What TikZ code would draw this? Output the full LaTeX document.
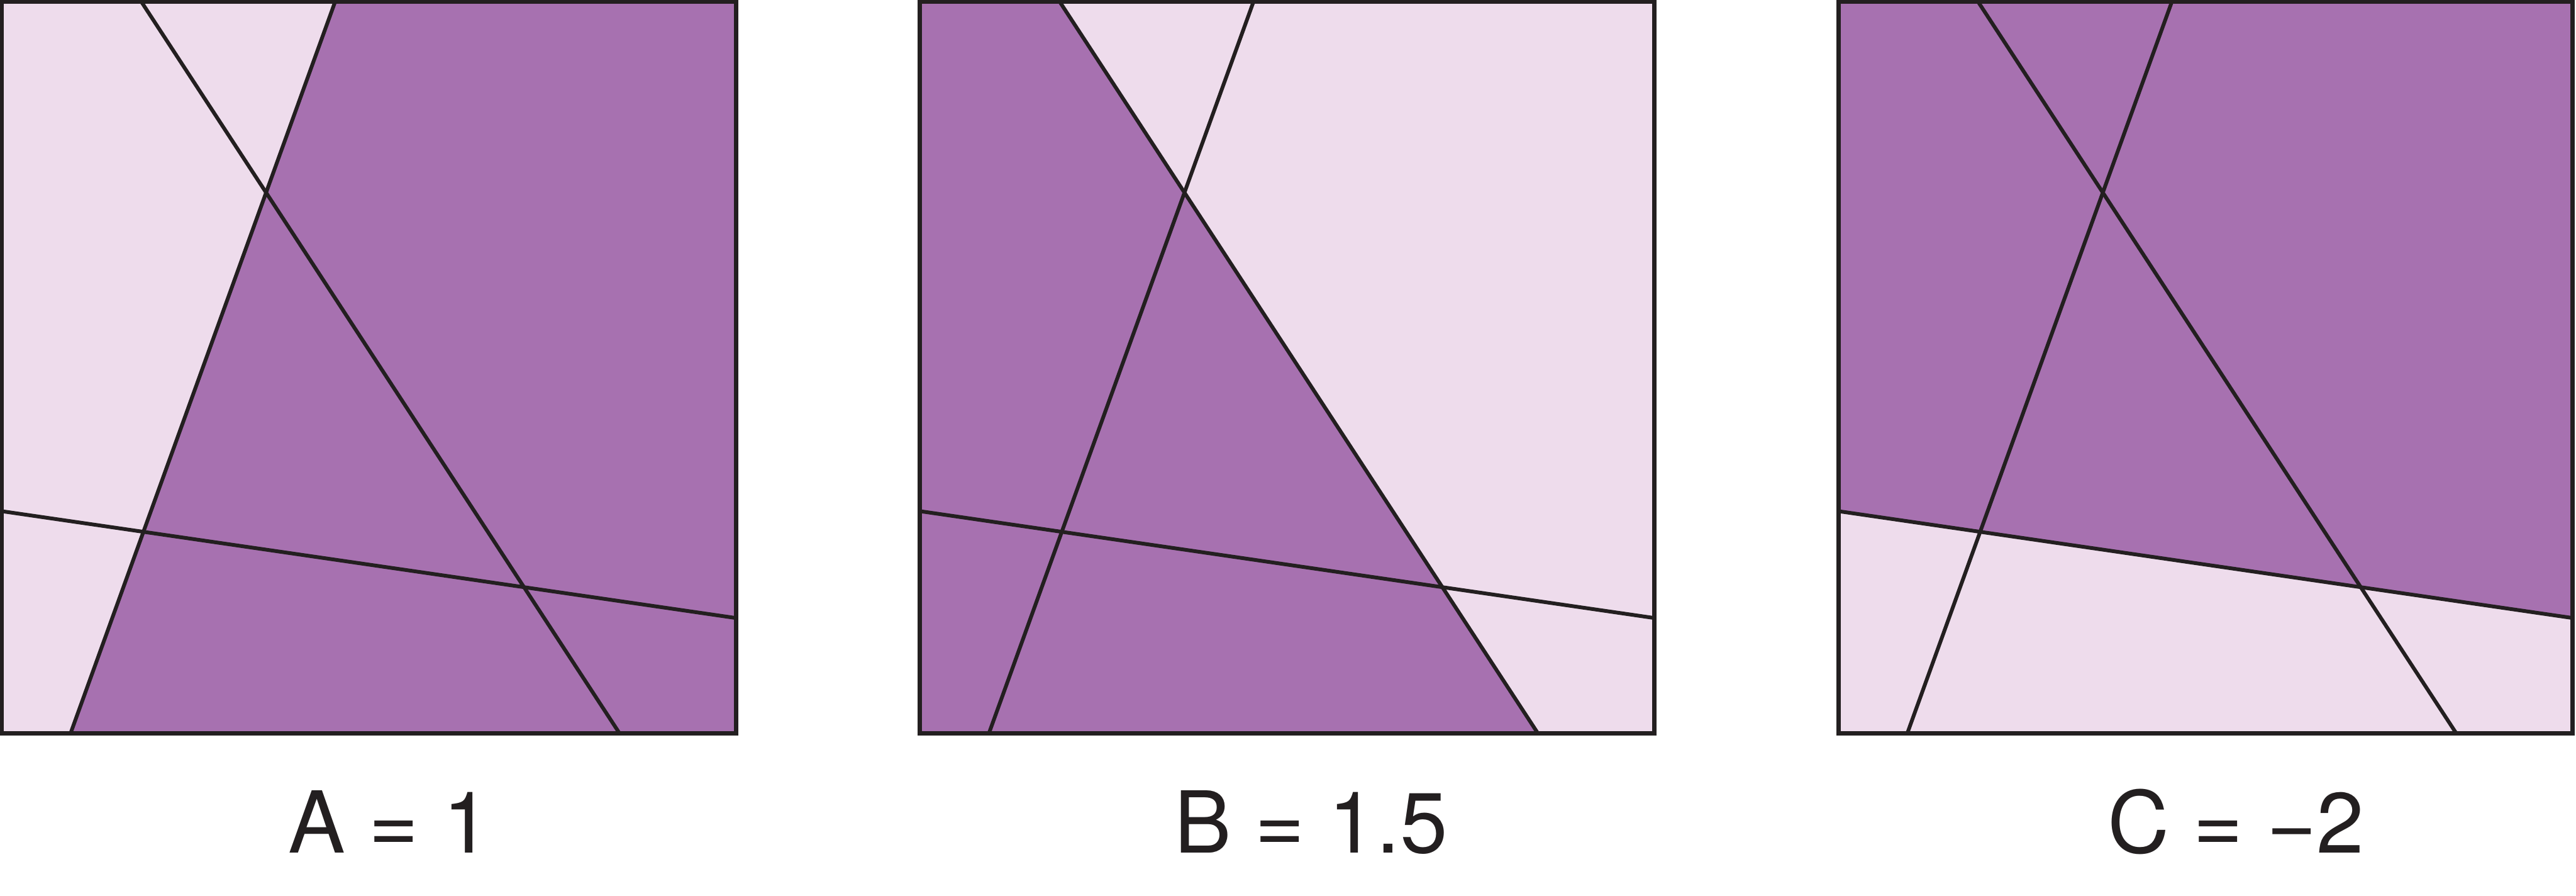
\documentclass[tikz,border=0pt]{standalone}
\usepackage{fontspec}
\setmainfont{TeX Gyre Heros}
\usetikzlibrary{positioning}
\definecolor{regiondark}{RGB}{167,113,176}
\definecolor{regionlight}{RGB}{238,220,236}
\definecolor{inkblack}{RGB}{35,31,32}

\begin{document}
\begin{tikzpicture}[
  frame/.style={draw=inkblack, line width=0.75pt},
  cut/.style={draw=inkblack, line width=0.65pt},
  dark/.style={fill=regiondark},
  light/.style={fill=regionlight},
  caption/.style={font=\fontsize{14.8}{18}\selectfont, text=inkblack, anchor=base, inner sep=0pt}
]
  \useasboundingbox (0,0) rectangle (15.68,5.45);

  % A: split by the rising line
  \begin{scope}[shift={(0.01,0.99)}]
    \fill[light] (0,0) rectangle (4.47,4.45);
    \fill[dark] (2.03,4.45) -- (4.47,4.45) -- (4.47,0) -- (0.42,0) -- cycle;
  \end{scope}
  % B: split by the falling line
  \begin{scope}[shift={(5.60,0.99)}]
    \fill[light] (0,0) rectangle (4.47,4.45);
    \fill[dark] (0,4.45) -- (0.85,4.45) -- (3.76,0) -- (0,0) -- cycle;
  \end{scope}
  % C: split by the flat line
  \begin{scope}[shift={(11.19,0.99)}]
    \fill[light] (0,0) rectangle (4.47,4.45);
    \fill[dark] (0,4.45) -- (4.47,4.45) -- (4.47,0.70) -- (0,1.35) -- cycle;
  \end{scope}

  \foreach \px in {0.01,5.60,11.19} {
    \begin{scope}[shift={(\px,0.99)}]
      \draw[cut] (0.85,4.45) -- (3.76,0);
      \draw[cut] (2.03,4.45) -- (0.42,0);
      \draw[cut] (0,1.35) -- (4.47,0.70);
      \draw[frame] (0,0) rectangle (4.47,4.45);
    \end{scope}
  }

  \node[caption] (labelA) at (2.37,0.26) {A = 1};
  \node[caption] (labelB) at (7.98,0.26) {B = 1.5};
  \node[caption] (labelC) at (13.61,0.26) {C = −2};
\end{tikzpicture}
\end{document}
